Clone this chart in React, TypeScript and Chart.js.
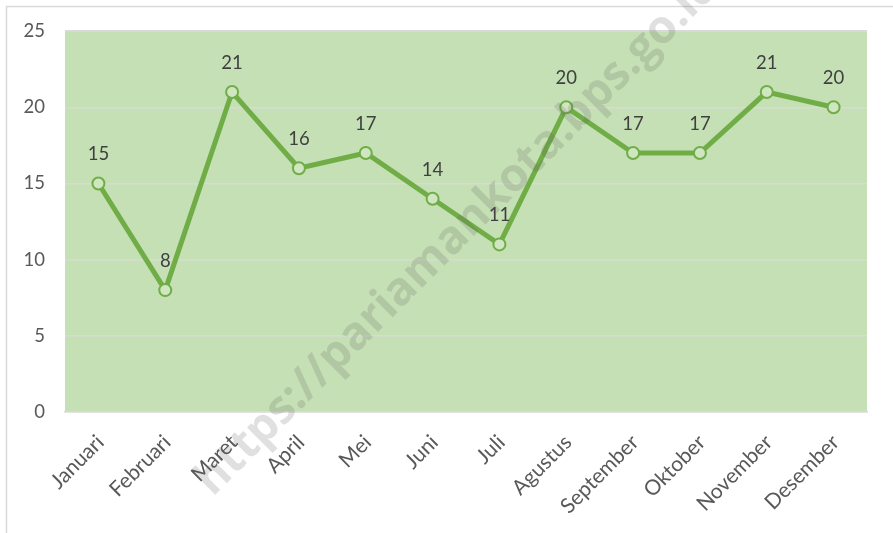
import React, { useEffect, useRef } from "react";
import { Chart, registerables } from "chart.js";

Chart.register(...registerables);

const categories = [
  "Januari", "Februari", "Maret", "April", "Mei", "Juni",
  "Juli", "Agustus", "September", "Oktober", "November", "Desember",
];
const values = [15, 8, 21, 16, 17, 14, 11, 20, 17, 17, 21, 20];
const yMin = 0;
const yMax = 25;
const yStep = 5;
const watermarkText = "https://pariamankota.bps.go.id";

const FONT = "Lato, 'Open Sans', sans-serif";

const framePlugin = {
  id: "frameAndBg",
  beforeDraw(chart: any) {
    const { ctx, chartArea } = chart;
    ctx.save();
    ctx.fillStyle = "#ffffff";
    ctx.fillRect(0, 0, chart.width, chart.height);
    ctx.strokeStyle = "#d9d9d9";
    ctx.lineWidth = 1.5;
    ctx.strokeRect(6.5, 6.5, chart.width + 20, chart.height + 20);
    ctx.fillStyle = "#c5e0b4";
    ctx.fillRect(chartArea.left, chartArea.top, chartArea.right - chartArea.left, chartArea.bottom - chartArea.top);
    ctx.restore();
  },
};

const labelPlugin = {
  id: "valueLabels",
  afterDatasetsDraw(chart: any) {
    const { ctx } = chart;
    const meta = chart.getDatasetMeta(0);
    ctx.save();
    ctx.font = `18.5px ${FONT}`;
    ctx.fillStyle = "#404040";
    ctx.textAlign = "center";
    ctx.textBaseline = "alphabetic";
    meta.data.forEach((el: any, i: number) => {
      ctx.fillText(String(chart.data.datasets[0].data[i]), el.x, el.y - 23);
    });
    ctx.restore();
  },
};

const watermarkPlugin = {
  id: "watermark",
  afterDraw(chart: any) {
    const { ctx } = chart;
    ctx.save();
    ctx.font = `bold 46px 'Open Sans', sans-serif`;
    const pre = ctx.measureText("https://").width;
    const s = -28 - pre;
    const t = 502;
    const x = (s + t) / Math.SQRT2;
    const y = (t - s) / Math.SQRT2;
    ctx.translate(x, y);
    ctx.rotate(-Math.PI / 4);
    ctx.fillStyle = "rgba(90,90,90,0.19)";
    ctx.textAlign = "left";
    ctx.textBaseline = "alphabetic";
    ctx.fillText(watermarkText, 0, 0);
    ctx.restore();
  },
};

export default function App() {
  const ref = useRef<HTMLCanvasElement>(null);
  useEffect(() => {
    document.body.style.margin = "0";
    const chart = new Chart(ref.current as HTMLCanvasElement, {
      type: "line",
      data: {
        labels: categories,
        datasets: [
          {
            data: values,
            borderColor: "#70ad47",
            borderWidth: 5,
            tension: 0,
            pointRadius: 6,
            pointBorderWidth: 2,
            pointBackgroundColor: "#cfe6c0",
            pointBorderColor: "#70ad47",
            clip: false as any,
          },
        ],
      },
      options: {
        animation: false,
        responsive: false,
        layout: { padding: { left: 0, top: 28, right: 26, bottom: 0 } },
        plugins: { legend: { display: false }, tooltip: { enabled: false } },
        scales: {
          x: {
            offset: true,
            grid: { display: false },
            border: { display: true, color: "#d9d9d9", width: 1.5 },
            ticks: {
              autoSkip: false,
              minRotation: 45,
              maxRotation: 45,
              padding: 10,
              labelOffset: 2,
              color: "#595959",
              font: { family: FONT, size: 21 },
            },
            afterFit: (scale: any) => {
              scale.height = 121;
            },
          },
          y: {
            min: yMin,
            max: yMax,
            grid: { color: "#d9d9d9", lineWidth: 1.5, drawTicks: false },
            border: { display: false },
            ticks: {
              stepSize: yStep,
              padding: 20,
              color: "#595959",
              font: { family: FONT, size: 18.5 },
            },
            afterFit: (scale: any) => {
              scale.width = 65;
            },
          },
        },
      },
      plugins: [framePlugin, labelPlugin, watermarkPlugin],
    });
    return () => chart.destroy();
  }, []);
  return (
    <div style={{ position: "fixed", left: 0, top: 0, width: 893, height: 533 }}>
      <canvas ref={ref} width={893} height={533} />
    </div>
  );
}
